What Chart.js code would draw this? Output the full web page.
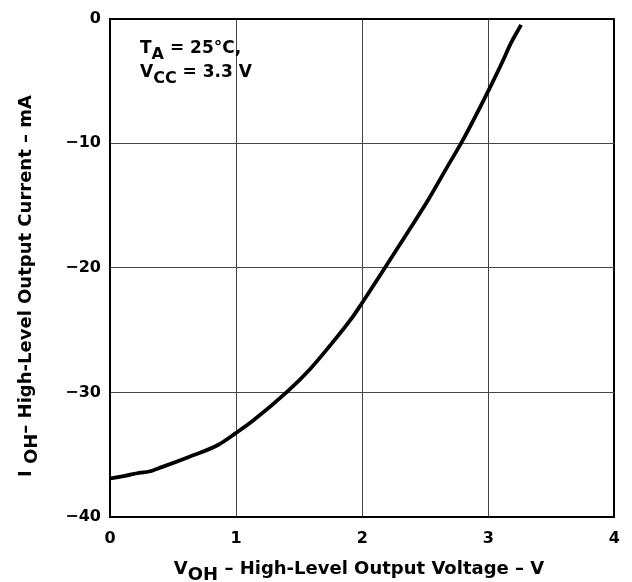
<!DOCTYPE html>
<html><head><meta charset="utf-8">
<script src="https://cdn.jsdelivr.net/npm/chart.js@4"></script>
<style>html,body{margin:0;padding:0;background:#fff}#wrap{width:632px;height:582px}</style>
</head><body><div id="wrap"><canvas id="c" width="632" height="582"></canvas></div>
<script>
// Data
const vohVolts = [0, 0.12, 0.23, 0.31, 0.41, 0.62, 0.86, 1.0, 1.13, 1.41, 1.58, 1.74, 1.92, 2.0, 2.18, 2.37, 2.52, 2.68, 2.79, 3.0, 3.11, 3.18, 3.26];
const iohMilliamps = [-36.9, -36.7, -36.45, -36.35, -36.0, -35.2, -34.2, -33.25, -32.3, -29.9, -28.2, -26.3, -24.0, -22.8, -20.0, -17.0, -14.6, -11.8, -9.9, -5.8, -3.5, -1.95, -0.5];
const xTickValues = [0, 1, 2, 3, 4];
const yTickValues = [0, -10, -20, -30, -40];
const xTitleParts = [["V", false], ["OH", true], [" \u2013 High-Level Output Voltage \u2013 V", false]];
const yTitleParts = [["I ", false], ["OH", true], ["\u2013 High-Level Output Current \u2013 mA", false]];
const noteLine1 = [["T", false], ["A", true], [" = 25\u00B0C,", false]];
const noteLine2 = [["V", false], ["CC", true], [" = 3.3 V", false]];

const FONT = '"DejaVu Sans", "Liberation Sans", Arial, sans-serif';

function richWidth(ctx, parts, size, subSize) {
  let w = 0;
  for (const [t, sub] of parts) {
    ctx.font = 'bold ' + (sub ? subSize : size) + 'px ' + FONT;
    w += ctx.measureText(t).width;
  }
  return w;
}
function drawRich(ctx, parts, x, y, size, subSize, subOff, align) {
  const w = richWidth(ctx, parts, size, subSize);
  let cx = align === 'center' ? x - w / 2 : x;
  ctx.textBaseline = 'alphabetic';
  ctx.textAlign = 'left';
  for (const [t, sub] of parts) {
    ctx.font = 'bold ' + (sub ? subSize : size) + 'px ' + FONT;
    ctx.fillText(t, cx, y + (sub ? subOff : 0));
    cx += ctx.measureText(t).width;
  }
}

const textPlugin = {
  id: 'textPlugin',
  afterDraw(chart) {
    const ctx = chart.ctx;
    ctx.save();
    ctx.fillStyle = '#000';
    drawRich(ctx, xTitleParts, 359, 574, 18, 18, 6, 'center');
    ctx.save();
    ctx.translate(31, 286);
    ctx.rotate(-Math.PI / 2);
    drawRich(ctx, yTitleParts, 0, 0, 18, 18, 6, 'center');
    ctx.restore();
    drawRich(ctx, noteLine1, 140, 53, 17, 16, 6, 'left');
    drawRich(ctx, noteLine2, 140, 77, 17, 16, 6, 'left');
    ctx.restore();
  }
};

const edgeColor = (v, edge) => v === edge ? '#000' : '#444';
const edgeWidth = (v, edge) => v === edge ? 2 : 1;

new Chart(document.getElementById('c'), {
  type: 'line',
  data: {
    datasets: [{
      data: vohVolts.map((v, i) => ({ x: v, y: iohMilliamps[i] })),
      borderColor: '#000',
      borderWidth: 3.8,
      pointRadius: 0,
      cubicInterpolationMode: 'monotone',
      fill: false
    }]
  },
  options: {
    responsive: false,
    animation: false,
    devicePixelRatio: 1,
    layout: { padding: { left: 0, top: 12, right: 15, bottom: 0 } },
    plugins: { legend: { display: false }, tooltip: { enabled: false } },
    scales: {
      x: {
        type: 'linear', min: 0, max: 4,
        afterBuildTicks: s => { s.ticks = xTickValues.map(v => ({ value: v })); },
        afterFit: s => { s.height = 65; },
        ticks: { color: '#000', padding: 12, font: { family: FONT, size: 16, weight: 'bold' }, maxRotation: 0 },
        grid: {
          color: c => edgeColor(c.tick && c.tick.value, 4),
          lineWidth: c => edgeWidth(c.tick && c.tick.value, 4),
          drawTicks: false, tickLength: 0
        },
        border: { color: '#000', width: 2 }
      },
      y: {
        type: 'linear', min: -40, max: 0,
        afterBuildTicks: s => { s.ticks = yTickValues.map(v => ({ value: v })); },
        afterFit: s => { s.width = 110; },
        ticks: {
          color: '#000', padding: 9, font: { family: FONT, size: 16, weight: 'bold' },
          callback: v => v === 0 ? '0' : '\u2212' + Math.abs(v)
        },
        grid: {
          color: c => edgeColor(c.tick && c.tick.value, 0),
          lineWidth: c => edgeWidth(c.tick && c.tick.value, 0),
          drawTicks: false, tickLength: 0
        },
        border: { color: '#000', width: 2 }
      }
    }
  },
  plugins: [textPlugin]
});
</script>
</body></html>
